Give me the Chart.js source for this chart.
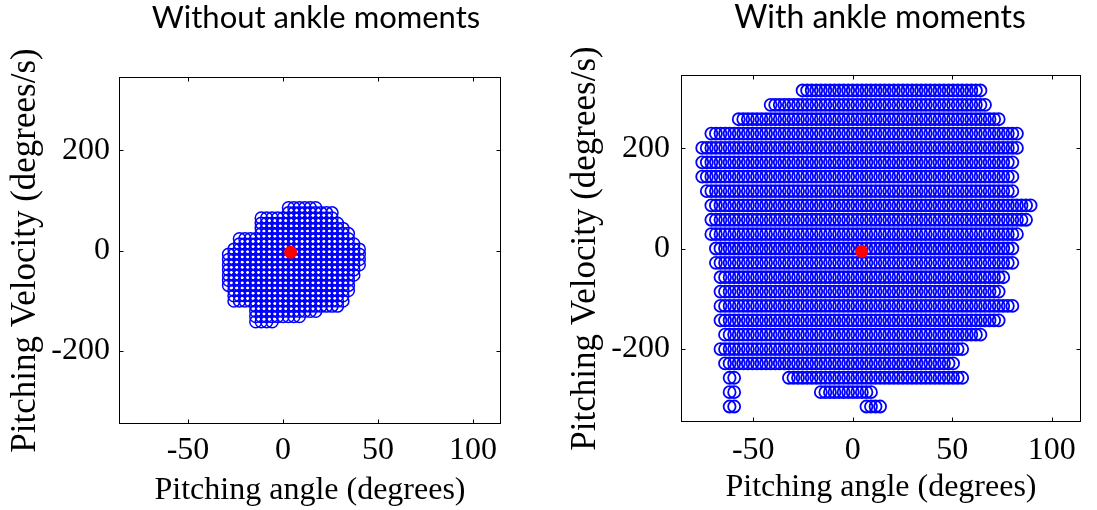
<!DOCTYPE html>
<html><head><meta charset="utf-8">
<script src="https://cdn.jsdelivr.net/npm/chart.js@4.4.0/dist/chart.umd.min.js"></script>
<style>
html,body{margin:0;padding:0;background:#fff;}
#wrap{position:relative;width:1097px;height:510px;overflow:hidden;background:#fff;}
canvas{position:absolute;top:0;}
#left{left:0;}
#right{left:560px;}
</style></head><body>
<div id="wrap">
<canvas id="left" width="632" height="510" style="width:632px;height:510px"></canvas>
<canvas id="right" width="640" height="510" style="width:640px;height:510px"></canvas>
</div>
<script>
// ---- axes ----
const xTicks = [-50, 0, 50, 100];
const yTicks = [-200, 0, 200];
const xRange = [-86.3, 114.7];
const yRange = [-346, 346];
const xTitle = 'Pitching angle (degrees)';
const yTitle = 'Pitching Velocity (degrees/s)';
const titles = ['Without ankle moments', 'With ankle moments'];

// ---- Without ankle moments: grid rows (velocity, deg/s) and angle spans covered (deg) ----
const leftAngleStep = 2.865;
const leftVel = [85.4, 75.1, 64.7, 54.4, 44.1, 33.7, 23.4, 13.1, 2.7, -7.6, -17.9, -28.3, -38.6, -48.9, -59.3, -69.6, -79.9, -90.3, -100.6, -110.9, -121.3, -131.6, -142.0];
const leftSegs = [
  [[3.4, 17.6]],
  [[2.7, 24.7]],
  [[-11.3, 26.0]],
  [[-11.3, 28.0]],
  [[-11.3, 31.7]],
  [[-11.3, 33.5]],
  [[-23.5, 34.4]],
  [[-23.5, 37.9]],
  [[-26.1, 38.7]],
  [[-28.0, 38.7]],
  [[-29.6, 40.5]],
  [[-29.6, 38.7]],
  [[-29.6, 37.9]],
  [[-29.6, 36.5]],
  [[-29.6, 35.2]],
  [[-28.8, 33.8]],
  [[-24.4, 33.0]],
  [[-24.4, 32.6]],
  [[-24.4, 31.7]],
  [[-15.6, 28.2]],
  [[-15.6, 17.7]],
  [[-15.6, 7.2]],
  [[-13.9, -6.0]]
];
const leftEq = [{x: 4.0, y: -3.5}];

// ---- With ankle moments ----
const rightAngleStep = 2.2918;
const rightVel = [315.1, 286.5, 257.8, 229.2, 200.5, 171.9, 143.2, 114.6, 85.9, 57.3, 28.6, 0, -28.6, -57.3, -85.9, -114.6, -143.2, -171.9, -200.5, -229.2, -257.8, -286.5, -315.1];
const rightSegs = [
  [[-25.8, 64.6]],
  [[-41.1, 67.6]],
  [[-56.2, 72.5]],
  [[-69.9, 82.5]],
  [[-74.6, 82.2]],
  [[-74.6, 80.5]],
  [[-74.6, 79.6]],
  [[-73.8, 79.6]],
  [[-72.1, 90.0]],
  [[-71.3, 86.9]],
  [[-69.9, 82.2]],
  [[-69.1, 80.5]],
  [[-67.9, 79.1]],
  [[-67.6, 74.6]],
  [[-66.7, 74.3]],
  [[-66.7, 79.6]],
  [[-65.4, 72.7]],
  [[-65.1, 64.8]],
  [[-65.4, 54.2]],
  [[-64.4, 49.5]],
  [[-63.0, -58.6], [-31.0, 55.3]],
  [[-62.0, -58.6], [-15.5, 8.8]],
  [[-61.5, -59.0], [5.8, 14.3]]
];
const rightEq = [{x: 4.5, y: -6}];

function gridPoints(vel, segs, step) {
  const pts = [];
  vel.forEach((v, i) => {
    segs[i].forEach(([a, b]) => {
      for (let k = Math.round(a / step); k <= Math.round(b / step); k++) {
        pts.push({x: k * step, y: v});
      }
    });
  });
  return pts;
}

const framePlugin = {
  id: 'frame',
  afterDraw(chart) {
    const {ctx, chartArea: a, scales} = chart;
    ctx.save();
    ctx.strokeStyle = '#000';
    ctx.lineWidth = 1;
    const L = Math.round(a.left) + 0.5, R = Math.round(a.right) - 0.5,
          T = Math.round(a.top) + 0.5, B = Math.round(a.bottom) - 0.5;
    ctx.strokeRect(L, T, R - L, B - T);
    const len = 4;
    ctx.beginPath();
    xTicks.forEach(v => {
      const px = Math.round(scales.x.getPixelForValue(v)) + 0.5;
      ctx.moveTo(px, B); ctx.lineTo(px, B - len);
      ctx.moveTo(px, T); ctx.lineTo(px, T + len);
    });
    yTicks.forEach(v => {
      const py = Math.round(scales.y.getPixelForValue(v)) + 0.5;
      ctx.moveTo(L, py); ctx.lineTo(L + len, py);
      ctx.moveTo(R, py); ctx.lineTo(R - len, py);
    });
    ctx.stroke();
    ctx.restore();
  }
};

const yTitlePlugin = {
  id: 'yTitle',
  afterDraw(chart, args, opts) {
    const {ctx, chartArea: a} = chart;
    ctx.save();
    ctx.fillStyle = '#000';
    ctx.font = opts.size + 'px "Liberation Serif"';
    ctx.textAlign = 'center';
    ctx.textBaseline = 'alphabetic';
    ctx.translate(opts.x, (a.top + a.bottom) / 2);
    ctx.rotate(-Math.PI / 2);
    ctx.fillText(opts.text, 0, 0);
    ctx.restore();
  }
};

function makeChart(id, g, blue, red, titleText) {
  return new Chart(document.getElementById(id), {
    type: 'scatter',
    data: {datasets: [
      {label: 'Equilibrium', data: red, yAxisID: 'y', pointRadius: 6.5, pointHoverRadius: 6.5,
       pointBackgroundColor: '#ff0000', pointBorderColor: '#ff0000', pointBorderWidth: 0,
       backgroundColor: '#ff0000', borderColor: '#ff0000'},
      {label: 'States', data: blue, yAxisID: 'y', pointRadius: 6, pointHoverRadius: 6, pointBorderWidth: g.lw,
       pointBorderColor: '#0000ff', pointBackgroundColor: 'rgba(0,0,0,0)',
       borderColor: '#0000ff', backgroundColor: 'rgba(0,0,0,0)'}
    ]},
    options: {
      responsive: false, animation: false, events: [], devicePixelRatio: 1,
      layout: {padding: 0},
      plugins: {
        legend: {display: false}, tooltip: {enabled: false},
        title: {display: true, text: titleText, color: '#000',
                font: {family: 'Lato', size: g.tSize, weight: 'normal', lineHeight: 1},
                padding: {top: g.tTop, bottom: g.top - g.tTop - g.tSize}},
        yTitle: {text: yTitle, x: 35, size: 35}
      },
      scales: {
        x: {type: 'linear', position: 'bottom', min: xRange[0], max: xRange[1],
            afterBuildTicks: s => { s.ticks = xTicks.map(v => ({value: v})); },
            afterFit: s => { s.height = 510 - g.bottom; },
            grid: {display: false, drawTicks: false}, border: {display: false},
            ticks: {color: '#000', font: {family: 'Liberation Serif', size: 32, lineHeight: 1},
                    padding: g.xtp, maxRotation: 0, autoSkip: false},
            title: {display: true, text: xTitle, color: '#000',
                    font: {family: 'Liberation Serif', size: 32, lineHeight: 1},
                    padding: {top: 0, bottom: g.xtb}}},
        y: {type: 'linear', position: 'left', min: yRange[0], max: yRange[1],
            afterBuildTicks: s => { s.ticks = yTicks.map(v => ({value: v})); },
            afterFit: s => { s.width = g.left; },
            grid: {display: false, drawTicks: false}, border: {display: false},
            ticks: {color: '#000', font: {family: 'Liberation Serif', size: 32, lineHeight: 1},
                    padding: g.ytp, autoSkip: false}},
        yMargin: {type: 'linear', position: 'right', axis: 'y', min: yRange[0], max: yRange[1],
            afterFit: s => { s.width = g.rightMargin; },
            grid: {display: false, drawTicks: false}, border: {display: false},
            ticks: {display: false}}
      }
    },
    plugins: [framePlugin, yTitlePlugin]
  });
}

makeChart('left', {left: 119, top: 77, bottom: 424, rightMargin: 632 - 501, tTop: 2, tSize: 31, xtp: 11, xtb: 3, ytp: 9, lw: 1.5},
          gridPoints(leftVel, leftSegs, leftAngleStep), leftEq, titles[0]);
makeChart('right', {left: 121, top: 75, bottom: 422, rightMargin: 640 - 521, tTop: 2, tSize: 32, xtp: 13, xtb: 6, ytp: 11, lw: 1.8},
          gridPoints(rightVel, rightSegs, rightAngleStep), rightEq, titles[1]);
</script>
</body></html>
